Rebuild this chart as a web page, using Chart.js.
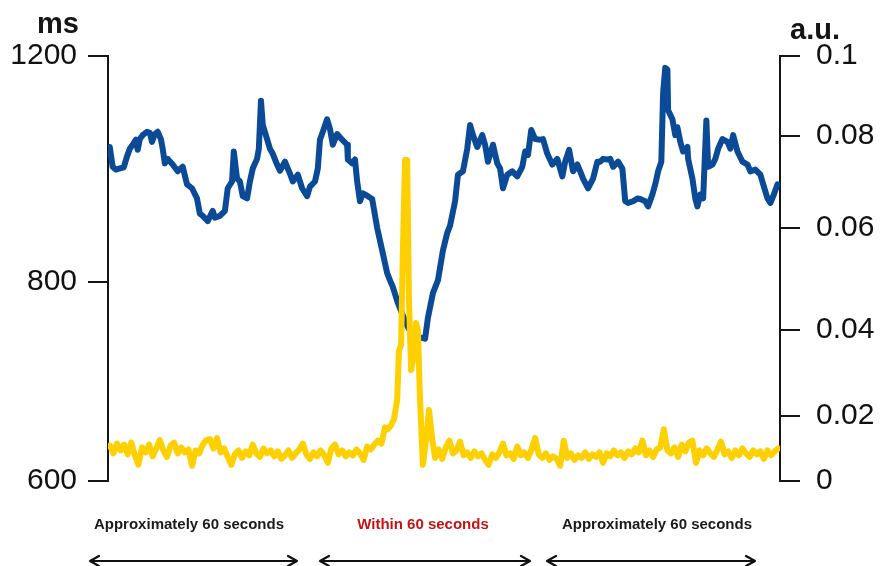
<!DOCTYPE html>
<html>
<head>
<meta charset="utf-8">
<script src="https://cdn.jsdelivr.net/npm/chart.js@4.4.1/dist/chart.umd.min.js"></script>
<style>
  html, body { margin: 0; padding: 0; background: #fff; }
  canvas { display: block; }
</style>
</head>
<body>
<canvas id="rriChart" width="880" height="566"></canvas>
<script>
// time in seconds, RRI in ms (blue)
var blueTime = [
  0, 0.8, 1.7, 2.8, 3.9, 4.8, 5.6, 6.4, 7.3, 7.8,
  8.4, 9.2, 10.4, 11.2, 11.8, 12.6, 13.4, 14.3, 14.8, 15.4,
  16.2, 17.6, 19.0, 20.4, 21.6, 23.0, 24.4, 25.2, 26.0, 27.4,
  28.8, 29.4, 30.8, 32.2, 33.0, 34.2, 34.7, 35.6, 36.4, 37.2,
  38.4, 39.2, 40.0, 41.2, 41.7, 42.3, 42.8, 44.0, 44.8, 45.6,
  46.8, 47.6, 49.0, 50.4, 51.2, 52.6, 53.8, 55.2, 56.0, 57.4,
  58.2, 58.8, 59.6, 60.8, 61.6, 62.4, 63.6, 65.0, 66.4, 66.6,
  67.8, 68.6, 69.2, 70.0, 70.8, 72.2, 73.4, 74.8, 76.2, 77.6,
  78.4, 79.2, 80.6, 81.8, 83.2, 84.6, 86.0, 87.4, 88.2, 89.0,
  90.4, 91.8, 93.2, 94.4, 95.2, 96.6, 97.4, 98.8, 100.0, 100.8,
  101.6, 102.8, 104.2, 105.0, 105.8, 107.2, 108.4, 109.2, 110.0, 111.2,
  112.6, 114.0, 115.4, 116.2, 117.0, 117.9, 119.0, 120.4, 121.2, 122.4,
  123.8, 125.2, 126.6, 127.4, 128.5, 129.6, 130.8, 131.6, 132.4, 133.8,
  135.2, 136.4, 137.2, 138.0, 139.2, 140.0, 140.8, 142.2, 143.4, 144.2,
  145.0, 146.4, 147.6, 148.4, 149.8, 150.6, 151.8, 152.6, 153.4, 154.3,
  154.8, 155.4, 156.0, 156.2, 157.4, 158.2, 158.8, 159.6, 160.4, 161.6,
  161.8, 163.0, 163.8, 164.4, 165.2, 166.0, 166.9, 167.4, 168.6, 169.4,
  170.2, 171.4, 172.8, 173.6, 174.4, 175.6, 177.0, 178.4, 179.2, 180.6,
  182.0, 182.8, 184.0, 184.8, 185.6, 186.8
];
var blueMs = [
  1039, 1004, 999, 1001, 1003, 1022, 1036, 1043, 1052, 1034,
  1053, 1060, 1066, 1064, 1048, 1062, 1066, 1053, 1036, 1010,
  1018, 1008, 996, 1004, 973, 966, 948, 921, 917, 908,
  926, 914, 917, 926, 966, 978, 1031, 983, 978, 952,
  948, 978, 1001, 1018, 1036, 1121, 1078, 1053, 1036, 1027,
  1008, 997, 1013, 992, 978, 990, 966, 952, 969, 978,
  1001, 1052, 1066, 1088, 1071, 1043, 1062, 1052, 1043, 1017,
  1010, 1017, 978, 943, 957, 952, 947, 896, 856, 816,
  803, 795, 779, 768, 756, 748, 743, 744, 743, 764,
  789, 803, 856, 887, 900, 943, 990, 996, 1036, 1078,
  1060, 1039, 1060, 1043, 1013, 1043, 1010, 1001, 966, 990,
  996, 987, 1004, 1031, 1025, 1069, 1053, 1052, 1053, 1027,
  1008, 1018, 987, 1013, 1034, 996, 1008, 996, 983, 966,
  983, 1013, 1013, 1018, 1017, 1018, 1004, 1013, 1001, 943,
  940, 943, 948, 947, 943, 934, 955, 973, 996, 1013,
  1135, 1179, 1176, 1104, 1088, 1060, 1074, 1048, 1031, 1039,
  1018, 983, 948, 934, 955, 948, 1086, 1004, 1008, 1018,
  1036, 1053, 1048, 1036, 1060, 1031, 1013, 1008, 996, 999,
  990, 973, 948, 940, 952, 973
];

// time in seconds, a.u. (yellow)
var yellowTime = [
  0, 1, 2, 3, 4, 5, 6, 7, 8, 9,
  10, 11, 12, 13, 14, 15, 16, 17, 18, 19,
  20, 21, 22, 23, 24, 25, 26, 27, 28, 29,
  30, 31, 32, 33, 34, 35, 36, 37, 38, 39,
  40, 41, 42, 43, 44, 45, 46, 47, 48, 49,
  50, 51, 52, 53, 54, 55, 56, 57, 58, 59,
  60, 61, 62, 63, 64, 65, 66, 67, 68, 69,
  70, 71, 72, 73, 74, 75, 76,
  77.0, 77.8, 78.7, 79.5, 80.4, 80.9, 81.5, 82.0, 82.6, 83.2,
  83.7, 84.3, 84.8, 85.7, 86.2, 86.8, 87.6, 88.5, 89.3, 90.2, 91.0,
  92, 93, 94, 95, 96, 97, 98, 99, 100, 101,
  102, 103, 104, 105, 106, 107, 108, 109, 110, 111,
  112, 113, 114, 115, 116, 117, 118, 119, 120, 121,
  122, 123, 124, 125, 126, 127, 128, 129, 130, 131,
  132, 133, 134, 135, 136, 137, 138, 139, 140, 141,
  142, 143, 144, 145, 146, 147, 148, 149, 150, 151,
  152, 153, 154, 155, 156, 157, 158, 159, 160, 161,
  162, 163, 164, 165, 166, 167, 168, 169, 170, 171,
  172, 173, 174, 175, 176, 177, 178, 179, 180, 181,
  182, 183, 184, 185, 186, 187
];
var yellowAu = [
  0.0109, 0.0085, 0.0115, 0.0094, 0.0112, 0.0082, 0.0118, 0.0079, 0.0050, 0.0103,
  0.0088, 0.0112, 0.0076, 0.0100, 0.0126, 0.0094, 0.0074, 0.0109, 0.0118, 0.0085,
  0.0103, 0.0088, 0.0097, 0.0047, 0.0094, 0.0085, 0.0112, 0.0126, 0.0129, 0.0100,
  0.0132, 0.0088, 0.0100, 0.0074, 0.0050, 0.0082, 0.0094, 0.0071, 0.0091, 0.0079,
  0.0112, 0.0085, 0.0074, 0.0100, 0.0085, 0.0094, 0.0076, 0.0091, 0.0068, 0.0079,
  0.0094, 0.0071, 0.0085, 0.0097, 0.0115, 0.0082, 0.0068, 0.0088, 0.0076, 0.0094,
  0.0079, 0.0056, 0.0100, 0.0112, 0.0082, 0.0094, 0.0076, 0.0088, 0.0079, 0.0097,
  0.0085, 0.0065, 0.0106, 0.0097, 0.0112, 0.0124, 0.0115,
  0.0165, 0.0159, 0.0172, 0.0190, 0.0237, 0.0353, 0.0365, 0.0557, 0.0748, 0.0748,
  0.0459, 0.0307, 0.0330, 0.0414, 0.0400, 0.0237, 0.0050, 0.0129, 0.0214, 0.0129, 0.0071,
  0.0097, 0.0068, 0.0103, 0.0124, 0.0085, 0.0094, 0.0121, 0.0079, 0.0088, 0.0071,
  0.0091, 0.0076, 0.0085, 0.0065, 0.0050, 0.0082, 0.0071, 0.0088, 0.0115, 0.0079,
  0.0085, 0.0068, 0.0106, 0.0079, 0.0088, 0.0071, 0.0097, 0.0132, 0.0082, 0.0071,
  0.0085, 0.0065, 0.0076, 0.0068, 0.0047, 0.0124, 0.0071, 0.0085, 0.0065, 0.0079,
  0.0071, 0.0088, 0.0068, 0.0082, 0.0074, 0.0088, 0.0056, 0.0085, 0.0076, 0.0094,
  0.0079, 0.0088, 0.0071, 0.0091, 0.0082, 0.0100, 0.0088, 0.0124, 0.0079, 0.0094,
  0.0074, 0.0097, 0.0103, 0.0159, 0.0094, 0.0085, 0.0103, 0.0074, 0.0112, 0.0091,
  0.0118, 0.0124, 0.0056, 0.0094, 0.0079, 0.0100, 0.0085, 0.0074, 0.0097, 0.0121,
  0.0082, 0.0091, 0.0071, 0.0094, 0.0079, 0.0100, 0.0085, 0.0074, 0.0094, 0.0082,
  0.0091, 0.0068, 0.0094, 0.0079, 0.0091, 0.0100
];

var msTicks = [600, 800, 1200];
var auTicks = [0, 0.02, 0.04, 0.06, 0.08, 0.1];
var periodLabels = ['Approximately 60 seconds', 'Within 60 seconds', 'Approximately 60 seconds'];

// the original figure's axes are not evenly spaced: [value, fraction of axis height]
var axisStops = {
  yMs: [[600, 0], [800, 0.468], [1200, 1]],
  yAu: [[0, 0], [0.02, 0.153], [0.04, 0.355], [0.06, 0.595], [0.08, 0.812], [0.1, 1]]
};

class StopScale extends Chart.LinearScale {
  getPixelForValue(value) {
    var stops = axisStops[this.id];
    var i = 1;
    while (i < stops.length - 1 && value > stops[i][0]) i++;
    var a = stops[i - 1], b = stops[i];
    var f = a[1] + (value - a[0]) / (b[0] - a[0]) * (b[1] - a[1]);
    return this.bottom - f * (this.bottom - this.top);
  }
  getValueForPixel(pixel) {
    var stops = axisStops[this.id];
    var f = (this.bottom - pixel) / (this.bottom - this.top);
    var i = 1;
    while (i < stops.length - 1 && f > stops[i][1]) i++;
    var a = stops[i - 1], b = stops[i];
    return a[0] + (f - a[1]) / (b[1] - a[1]) * (b[0] - a[0]);
  }
}
StopScale.id = 'stops';
StopScale.defaults = {};
Chart.register(StopScale);

var axisColor = '#151515';
var tickFont = { family: '"Liberation Sans", Arial, sans-serif', size: 30 };

var annotations = {
  id: 'annotations',
  afterDraw: function (chart) {
    var ctx = chart.ctx;
    ctx.save();
    ctx.fillStyle = axisColor;
    ctx.textAlign = 'center';
    ctx.textBaseline = 'alphabetic';
    ctx.font = 'bold 29px "Liberation Sans", Arial, sans-serif';
    ctx.fillText('ms', 58, 33);
    ctx.fillText('a.u.', 815, 39);

    var centers = [189, 423, 657];
    var colors = ['#1a1a1a', '#c41414', '#1a1a1a'];
    var spans = [[90, 297], [320, 530], [547, 755]];
    ctx.font = 'bold 15px "Liberation Sans", Arial, sans-serif';
    periodLabels.forEach(function (txt, i) {
      ctx.fillStyle = colors[i];
      ctx.fillText(txt, centers[i], 529);
    });

    ctx.strokeStyle = '#111';
    ctx.lineWidth = 2.2;
    ctx.lineCap = 'round';
    ctx.lineJoin = 'round';
    var y = 561;
    spans.forEach(function (s) {
      ctx.beginPath();
      ctx.moveTo(s[0], y);
      ctx.lineTo(s[1], y);
      ctx.moveTo(s[0] + 9, y - 5);
      ctx.lineTo(s[0], y);
      ctx.lineTo(s[0] + 9, y + 5);
      ctx.moveTo(s[1] - 9, y - 5);
      ctx.lineTo(s[1], y);
      ctx.lineTo(s[1] - 9, y + 5);
      ctx.stroke();
    });
    ctx.restore();
  }
};

var ctx = document.getElementById('rriChart').getContext('2d');
var rriChart = new Chart(ctx, {
  type: 'line',
  data: {
    datasets: [{
      label: 'a.u.',
      yAxisID: 'yAu',
      data: yellowTime.map(function (t, i) { return { x: t, y: yellowAu[i] }; }),
      borderColor: '#ffd000',
      borderWidth: 6,
      pointRadius: 0,
      tension: 0,
      borderJoinStyle: 'round',
      borderCapStyle: 'round'
    }, {
      label: 'ms',
      yAxisID: 'yMs',
      data: blueTime.map(function (t, i) { return { x: t, y: blueMs[i] }; }),
      borderColor: '#0b4a97',
      borderWidth: 6,
      pointRadius: 0,
      tension: 0,
      borderJoinStyle: 'round',
      borderCapStyle: 'round'
    }]
  },
  options: {
    responsive: false,
    animation: false,
    events: [],
    layout: { padding: { top: 56, bottom: 85, left: 0, right: 0 } },
    plugins: { legend: { display: false }, tooltip: { enabled: false } },
    scales: {
      x: { type: 'linear', display: false, min: -0.5, max: 187.5 },
      yMs: {
        type: 'stops',
        position: 'left',
        min: 600,
        max: 1200,
        afterBuildTicks: function (s) { s.ticks = msTicks.map(function (v) { return { value: v }; }); },
        afterFit: function (s) { s.width = 108; },
        grid: { drawOnChartArea: false, tickLength: 20, color: axisColor, lineWidth: 2 },
        border: { display: true, color: axisColor, width: 2 },
        ticks: { color: '#111', font: tickFont, padding: 11, callback: function (v) { return String(v); } }
      },
      yAu: {
        type: 'stops',
        position: 'right',
        min: 0,
        max: 0.1,
        afterBuildTicks: function (s) { s.ticks = auTicks.map(function (v) { return { value: v }; }); },
        afterFit: function (s) { s.width = 100; },
        grid: { drawOnChartArea: false, tickLength: 20, color: axisColor, lineWidth: 2 },
        border: { display: true, color: axisColor, width: 2 },
        ticks: { color: '#111', font: tickFont, padding: 16, callback: function (v) { return String(v); } }
      }
    }
  },
  plugins: [annotations]
});
</script>
</body>
</html>
